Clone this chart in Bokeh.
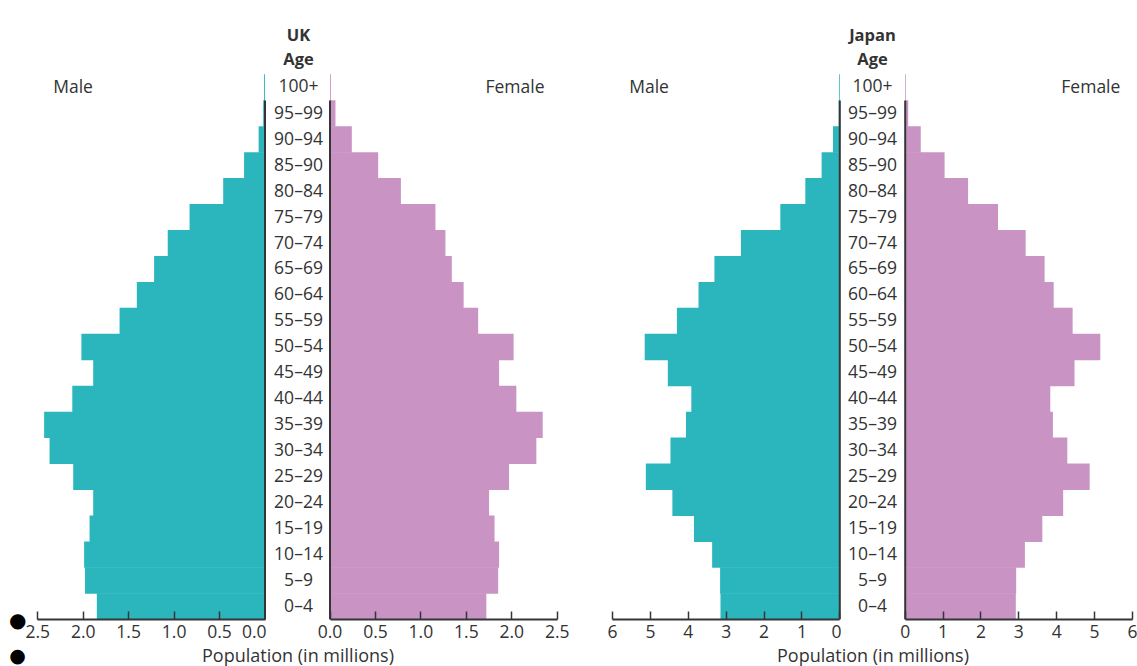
import numpy as np
from bokeh.plotting import figure
from bokeh.layouts import row, column
from bokeh.models import (Range1d, FixedTicker, Label, ColumnDataSource,
                          NumeralTickFormatter, LinearAxis)
from bokeh.embed import file_html
from bokeh.resources import INLINE
from bokeh.core.properties import value

# ---------------- data ----------------
age_groups = ["0–4", "5–9", "10–14", "15–19", "20–24", "25–29", "30–34", "35–39",
              "40–44", "45–49", "50–54", "55–59", "60–64", "65–69", "70–74", "75–79",
              "80–84", "85–90", "90–94", "95–99", "100+"]

uk_male = [1.85, 1.98, 1.99, 1.93, 1.89, 2.11, 2.37, 2.43, 2.12, 1.89, 2.02,
           1.60, 1.41, 1.22, 1.07, 0.83, 0.46, 0.23, 0.07, 0.02, 0.01]
uk_female = [1.72, 1.85, 1.86, 1.81, 1.75, 1.97, 2.27, 2.34, 2.05, 1.86, 2.02,
             1.63, 1.47, 1.34, 1.27, 1.16, 0.78, 0.53, 0.24, 0.06, 0.01]
japan_male = [3.15, 3.16, 3.37, 3.85, 4.42, 5.12, 4.47, 4.06, 3.92, 4.54, 5.15,
              4.30, 3.73, 3.31, 2.61, 1.57, 0.91, 0.48, 0.18, 0.03, 0.02]
japan_female = [2.92, 2.93, 3.16, 3.62, 4.17, 4.87, 4.28, 3.90, 3.83, 4.47, 5.15,
                4.42, 3.92, 3.68, 3.18, 2.45, 1.66, 1.04, 0.41, 0.08, 0.02]

uk_ticks = [0.0, 0.5, 1.0, 1.5, 2.0, 2.5]
japan_ticks = [0, 1, 2, 3, 4, 5, 6]
axis_title = "Population (in millions)"

# ---------------- style ----------------
FONT = "Open Sans"
CYAN = "#2bb6be"
PINK = "#c993c4"
DARK = "#353535"
TEXT = "#333333"
H = 643            # height of the chart row
STRIP = 23         # height of the strip that holds the axis titles
FRAME_H = 619
ROW_PX = 25.95
Y_END = FRAME_H / ROW_PX
rows_y = np.arange(len(age_groups)) + 0.5


def make_fig(width, x_range, border_left, border_right, vals, color, ticks, fmt):
    p = figure(width=width, height=H, x_range=x_range, y_range=Range1d(0, Y_END),
               output_backend="svg", toolbar_location=None, y_axis_location=None,
               min_border_left=border_left, min_border_right=border_right,
               min_border_top=0, min_border_bottom=H - FRAME_H)
    p.grid.visible = False
    p.outline_line_color = None
    src = ColumnDataSource(dict(y=rows_y, v=vals))
    p.hbar(y="y", left=0, right="v", height=1.02, source=src,
           fill_color=color, line_color=None)
    p.segment(x0=[0], y0=[0], x1=[0], y1=[len(age_groups) - 1],
              line_color=DARK, line_width=2)
    ax = p.xaxis[0]
    ax.ticker = FixedTicker(ticks=ticks)
    ax.formatter = NumeralTickFormatter(format=fmt)
    ax.bounds = (min(ticks), max(ticks))
    ax.axis_line_color = DARK
    ax.axis_line_width = 2
    ax.major_tick_line_color = DARK
    ax.major_tick_line_width = 1.5
    ax.major_tick_in = 8
    ax.major_tick_out = 0
    ax.minor_tick_line_color = None
    ax.major_label_text_font = FONT
    ax.major_label_text_font_size = "17.5px"
    ax.major_label_text_color = TEXT
    ax.major_label_standoff = 5
    return p


def add_text(p, x, y, txt, align="center", size="17.5px", style="normal"):
    p.add_layout(Label(x=x, y=y, text=txt, text_align=align,
                       text_baseline="middle", text_font=FONT, text_font_size=size,
                       text_color=TEXT, text_font_style=style))


# UK scale 90.9 px per million, Japan 37.88 px per million
s_uk, s_jp = 90.9, 37.88

uk_m = make_fig(266, Range1d(227.5 / s_uk, -1.5 / s_uk), 37, 0, uk_male, CYAN, uk_ticks, "0.0")
uk_f = make_fig(324, Range1d(-63.5 / s_uk, 228.5 / s_uk), 0, 32, uk_female, PINK, uk_ticks, "0.0")
jp_m = make_fig(251, Range1d(227.3 / s_jp, -1.7 / s_jp), 22, 0, japan_male, CYAN, japan_ticks, "0")
jp_f = make_fig(296, Range1d(-63.7 / s_jp, 228.3 / s_jp), 0, 4, japan_female, PINK, japan_ticks, "0")

# age labels in the gap
uk_mid, jp_mid = -31.5 / s_uk, -32.7 / s_jp
for p, xc in ((uk_f, uk_mid), (jp_f, jp_mid)):
    src = ColumnDataSource(dict(x=[xc] * len(age_groups), y=rows_y + 0.065, t=age_groups))
    p.text(x="x", y="y", text="t", source=src, text_align="center", text_baseline="middle",
           text_font=value(FONT), text_font_size="17.5px", text_color=TEXT)

# titles
add_text(uk_f, uk_mid, 22.54, "UK", size="16.5px", style="bold")
add_text(uk_f, uk_mid, 21.62, "Age", size="16.5px", style="bold")
add_text(jp_f, jp_mid, 22.54, "Japan", size="16.5px", style="bold")
add_text(jp_f, jp_mid, 21.62, "Age", size="16.5px", style="bold")

# sex labels
add_text(uk_m, 2.33, 20.56, "Male", align="left")
add_text(uk_f, 2.36, 20.56, "Female", align="right")
add_text(jp_m, 5.56, 20.56, "Male", align="left")
add_text(jp_f, 5.68, 20.56, "Female", align="right")

# upper list bullet on the far left (a label-only axis)
bullet_axis = LinearAxis(ticker=FixedTicker(ticks=[0.0]), bounds=(0.0, 0.1),
                         major_label_overrides={0.0: "●"},
                         axis_line_color=None, major_tick_line_color=None,
                         minor_tick_line_color=None, major_label_standoff=5,
                         major_label_text_font="DejaVu Sans",
                         major_label_text_font_size="20px",
                         major_label_text_color="black")
uk_m.add_layout(bullet_axis, "left")

# strip with the axis titles and the lower bullet
strip = figure(width=1137, height=STRIP, x_range=Range1d(0, 1137), y_range=Range1d(0, STRIP),
               output_backend="svg", toolbar_location=None,
               x_axis_location=None, y_axis_location=None,
               min_border=0, min_border_left=0, min_border_right=0,
               min_border_top=0, min_border_bottom=0)
strip.grid.visible = False
strip.outline_line_color = None
for xc in (297.5, 872.5):
    strip.add_layout(Label(x=xc, y=11.5, text=axis_title, text_align="center",
                           text_baseline="middle", text_font=FONT, text_font_size="18px",
                           text_color=TEXT))
strip.add_layout(Label(x=17, y=11.5, text="●", text_align="center", text_baseline="middle",
                       text_font="DejaVu Sans", text_font_size="19px", text_color="black"))

layout = column(row(uk_m, uk_f, jp_m, jp_f, spacing=0), strip, spacing=0)
open("out.html", "w").write(file_html(layout, INLINE))
